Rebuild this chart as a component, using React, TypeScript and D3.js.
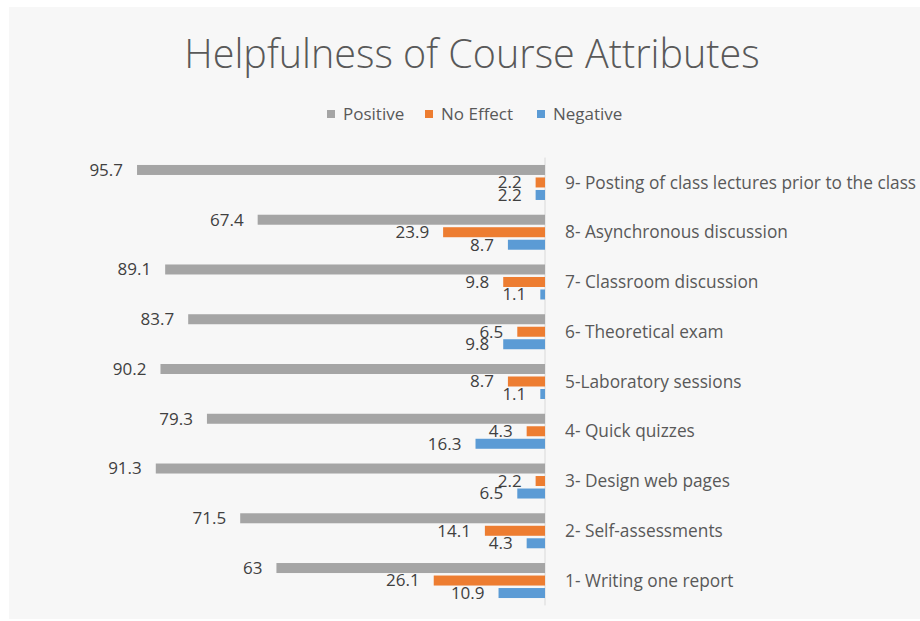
import React from 'react';
import * as d3 from 'd3';

const categories = [
  '9- Posting of class lectures prior to the class',
  '8- Asynchronous discussion',
  '7- Classroom discussion',
  '6- Theoretical exam',
  '5-Laboratory sessions',
  '4- Quick quizzes',
  '3- Design web pages',
  '2- Self-assessments',
  '1- Writing one report',
];
const series = ['Positive', 'No Effect', 'Negative'];
const colors = ['#a5a5a5', '#ed7d31', '#5b9bd5'];

const positive = [95.7, 67.4, 89.1, 83.7, 90.2, 79.3, 91.3, 71.5, 63];
const noEffect = [2.2, 23.9, 9.8, 6.5, 8.7, 4.3, 2.2, 14.1, 26.1];
const negative = [2.2, 8.7, 1.1, 9.8, 1.1, 16.3, 6.5, 4.3, 10.9];

const values = [positive, noEffect, negative];

const W = 920;
const H = 621;
const font = "'Open Sans', sans-serif";

const App: React.FC = () => {
  const x = d3.scaleLinear().domain([0, 100]).range([545, 118.7]);
  const y = d3
    .scaleBand<string>()
    .domain(categories)
    .range([157.6, 605.4])
    .paddingInner(0.2965)
    .paddingOuter(0.148);
  const ys = d3
    .scaleBand<string>()
    .domain(series)
    .range([0, y.bandwidth()])
    .paddingInner(0.2);

  const legendX = [327, 425, 537];

  return (
    <svg
      width={W}
      height={H}
      style={{ position: 'absolute', left: 0, top: 0, display: 'block' }}
    >
      <rect x={0} y={0} width={W} height={H} fill='#ffffff' />
      <rect x={9} y={7} width={W - 9} height={H - 9} fill='#f7f7f7' />
      <text
        x={472}
        y={68}
        textAnchor='middle'
        fontFamily={font}
        fontWeight={300}
        fontSize={39.5}
        fill='#595959'
      >
        Helpfulness of Course Attributes
      </text>

      {series.map((s, i) => (
        <g key={s} transform={`translate(${legendX[i]},110)`}>
          <rect width={8} height={8} fill={colors[i]} />
          <text
            x={16}
            y={10}
            fontFamily={font}
            fontSize={17}
            fill='#595959'
          >
            {s}
          </text>
        </g>
      ))}

      <line
        x1={x(0)}
        x2={x(0)}
        y1={157.6}
        y2={605.4}
        stroke='#d9d9d9'
        strokeWidth={1}
      />

      {categories.map((c, ci) => (
        <g key={c}>
          {series.map((s, si) => {
            const v = values[si][ci];
            const by = (y(c) as number) + (ys(s) as number);
            return (
              <g key={s}>
                <rect
                  x={x(v)}
                  y={by}
                  width={x(0) - x(v)}
                  height={ys.bandwidth()}
                  fill={colors[si]}
                />
                <text
                  x={x(v) - 14}
                  y={by + ys.bandwidth() / 2}
                  dy='0.35em'
                  textAnchor='end'
                  fontFamily={font}
                  fontSize={17}
                  fill='#404040'
                >
                  {v}
                </text>
              </g>
            );
          })}
          <text
            x={565}
            y={(y(c) as number) + y.bandwidth() / 2}
            dy='0.35em'
            fontFamily={font}
            fontSize={17.3}
            fill='#595959'
          >
            {c}
          </text>
        </g>
      ))}
    </svg>
  );
};

export default App;
